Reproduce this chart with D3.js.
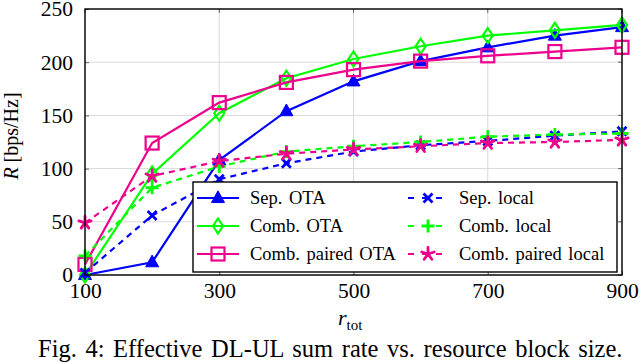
<!DOCTYPE html>
<html>
<head>
<meta charset="utf-8">
<script src="https://cdn.jsdelivr.net/npm/d3@7"></script>
<style>
  body { margin: 0; background: #fff; }
  text { font-family: "Liberation Serif", "DejaVu Serif", serif; fill: #000; }
</style>
</head>
<body>
<div id="graph"></div>
<script>
const rTot = [100, 200, 300, 400, 500, 600, 700, 800, 900];
const sepOTA = [0, 12, 108, 154, 182, 201, 214, 225, 233];
const combOTA = [0, 95, 152, 185, 203, 215, 225, 230, 235];
const combPairedOTA = [10, 124, 162, 181, 193, 201, 206, 210, 214];
const sepLocal = [2, 56, 90, 105, 116, 122, 126, 131, 135];
const combLocal = [18, 82, 102, 116, 121, 125, 130, 132, 133];
const combPairedLocal = [49, 93, 107, 114, 118, 121, 124, 125, 127];
const xTicks = [100, 300, 500, 700, 900];
const yTicks = [0, 50, 100, 150, 200, 250];

const blue = '#0000ff', green = '#00ff00', pink = '#ec008c';
const series = [
  {name: 'Sep. OTA', vals: sepOTA, color: blue, dash: null, mark: 'tri'},
  {name: 'Comb. OTA', vals: combOTA, color: green, dash: null, mark: 'diamond'},
  {name: 'Comb. paired OTA', vals: combPairedOTA, color: pink, dash: null, mark: 'square'},
  {name: 'Sep. local', vals: sepLocal, color: blue, dash: '6,5', mark: 'x'},
  {name: 'Comb. local', vals: combLocal, color: green, dash: '6,5', mark: 'plus'},
  {name: 'Comb. paired local', vals: combPairedLocal, color: pink, dash: '6,5', mark: 'star'}
];

const w = 640, h = 363;
const padLeft = 85, padRight = 622, padTop = 9, padBottom = 275;

const svg = d3.select('#graph').append('svg')
  .attr('width', w).attr('height', h);

const xScale = d3.scaleLinear().domain([100, 900]).range([padLeft, padRight]);
const yScale = d3.scaleLinear().domain([0, 250]).range([padBottom, padTop]);

// grid
svg.append('g').selectAll('line').data(xTicks).enter().append('line')
  .attr('x1', d => xScale(d)).attr('x2', d => xScale(d))
  .attr('y1', padTop).attr('y2', padBottom)
  .attr('stroke', '#d9d9d9').attr('stroke-width', 1);
svg.append('g').selectAll('line').data(yTicks).enter().append('line')
  .attr('x1', padLeft).attr('x2', padRight)
  .attr('y1', d => yScale(d)).attr('y2', d => yScale(d))
  .attr('stroke', '#d9d9d9').attr('stroke-width', 1);

// axes (inner ticks)
const xAxis = d3.axisBottom(xScale).tickValues(xTicks).tickSizeInner(-4).tickSizeOuter(0);
const yAxis = d3.axisLeft(yScale).tickValues(yTicks).tickSizeInner(-4).tickSizeOuter(0);
const gx = svg.append('g').attr('transform', 'translate(0,' + padBottom + ')').call(xAxis);
const gy = svg.append('g').attr('transform', 'translate(' + padLeft + ',0)').call(yAxis);
[gx, gy].forEach(g => {
  g.select('.domain').remove();
  g.selectAll('line').attr('stroke', '#666');
  g.selectAll('text').style('font-family', '"Liberation Serif", serif').style('font-size', '21.5px').attr('fill', '#000');
});
gx.selectAll('text').attr('dy', null).attr('y', 23);
gy.selectAll('text').attr('x', -12);
// top ticks and right ticks
svg.append('g').selectAll('line').data(xTicks).enter().append('line')
  .attr('x1', d => xScale(d)).attr('x2', d => xScale(d))
  .attr('y1', padTop).attr('y2', padTop + 4).attr('stroke', '#666');
svg.append('g').selectAll('line').data(yTicks).enter().append('line')
  .attr('x1', padRight - 4).attr('x2', padRight)
  .attr('y1', d => yScale(d)).attr('y2', d => yScale(d)).attr('stroke', '#666');

function drawMark(g, type, x, y, color) {
  const s = 6.5;
  if (type === 'tri') {
    g.append('path').attr('d', `M${x},${y - s * 1.1}L${x + s},${y + s * 0.7}L${x - s},${y + s * 0.7}Z`)
      .attr('fill', color).attr('stroke', color).attr('stroke-width', 1);
  } else if (type === 'diamond') {
    g.append('path').attr('d', `M${x},${y - 7.5}L${x + 5},${y}L${x},${y + 7.5}L${x - 5},${y}Z`)
      .attr('fill', 'none').attr('stroke', color).attr('stroke-width', 2.2);
  } else if (type === 'square') {
    g.append('rect').attr('x', x - 6.5).attr('y', y - 6.5).attr('width', 13).attr('height', 13)
      .attr('fill', 'none').attr('stroke', color).attr('stroke-width', 2.2);
  } else if (type === 'x') {
    g.append('path').attr('d', `M${x - 4.5},${y - 4.5}L${x + 4.5},${y + 4.5}M${x - 4.5},${y + 4.5}L${x + 4.5},${y - 4.5}`)
      .attr('stroke', color).attr('stroke-width', 2.8);
  } else if (type === 'plus') {
    g.append('path').attr('d', `M${x - 6.5},${y}L${x + 6.5},${y}M${x},${y - 6.5}L${x},${y + 6.5}`)
      .attr('stroke', color).attr('stroke-width', 2.8);
  } else if (type === 'star') {
    let d = '';
    for (let i = 0; i < 5; i++) {
      const a = -Math.PI / 2 + i * 2 * Math.PI / 5;
      d += `M${x},${y}L${x + 6.5 * Math.cos(a)},${y + 6.5 * Math.sin(a)}`;
    }
    g.append('path').attr('d', d).attr('stroke', color).attr('stroke-width', 2.8).attr('stroke-linecap', 'round');
  }
}

const line = d3.line().x((d, i) => xScale(rTot[i])).y(d => yScale(d));

series.forEach(s => {
  const g = svg.append('g');
  g.append('path').datum(s.vals).attr('d', line)
    .attr('fill', 'none').attr('stroke', s.color).attr('stroke-width', 2.2)
    .attr('stroke-dasharray', s.dash);
  s.vals.forEach((v, i) => drawMark(g, s.mark, xScale(rTot[i]), yScale(v), s.color));
});

// frame
svg.append('rect').attr('x', padLeft).attr('y', padTop).attr('width', padRight - padLeft).attr('height', padBottom - padTop)
  .attr('fill', 'none').attr('stroke', '#000').attr('stroke-width', 1.4);

// legend
const lg = svg.append('g');
lg.append('rect').attr('x', 193).attr('y', 182).attr('width', 424).attr('height', 90)
  .attr('fill', '#fff').attr('stroke', '#000').attr('stroke-width', 1.4);
series.forEach((s, i) => {
  const col = Math.floor(i / 3), row = i % 3;
  const lx = col === 0 ? 197 : 407;
  const ly = 198 + row * 28;
  lg.append('line').attr('x1', lx).attr('x2', lx + 42).attr('y1', ly).attr('y2', ly)
    .attr('stroke', s.color).attr('stroke-width', 2.2).attr('stroke-dasharray', s.dash ? '6,8' : null)
    .attr('stroke-dashoffset', s.dash ? -1 : null);
  drawMark(lg, s.mark, lx + 21, ly, s.color);
  lg.append('text').attr('x', col === 0 ? 250 : 459).attr('y', ly + 6)
    .style('font-size', '18.5px').style('word-spacing', '2px').text(s.name);
});

// labels
const yl = svg.append('text').attr('transform', 'translate(18,136) rotate(-90)')
  .attr('text-anchor', 'middle').style('font-size', '20px');
yl.append('tspan').style('font-style', 'italic').text('R');
yl.append('tspan').text(' [bps/Hz]');

const xl = svg.append('text').attr('x', 338).attr('y', 325).style('font-size', '22px');
xl.append('tspan').style('font-style', 'italic').text('r');
xl.append('tspan').attr('dy', 5).style('font-size', '15px').text('tot');

svg.append('text').attr('x', 38).attr('y', 357)
  .style('font-size', '24.5px').style('word-spacing', '2.5px')
  .text('Fig. 4: Effective DL-UL sum rate vs. resource block size.');
</script>
</body>
</html>
